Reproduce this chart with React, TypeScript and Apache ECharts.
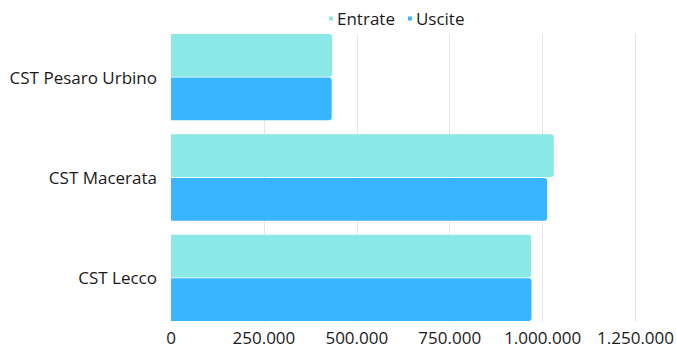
import React, { useEffect, useRef } from "react";
import * as echarts from "echarts";

const categories = ["CST Pesaro Urbino", "CST Macerata", "CST Lecco"];
const entrate = [433000, 1029000, 968000];
const uscite = [432000, 1011000, 969000];
const seriesNames = ["Entrate", "Uscite"];

export default function App() {
  const ref = useRef<HTMLDivElement>(null);
  useEffect(() => {
    if (!ref.current) return;
    document.body.style.margin = "0";
    const chart = echarts.init(ref.current, null, { renderer: "svg" });
    const font = "'Open Sans', sans-serif";
    const fmt = (v: number) => v.toLocaleString("de-DE");
    chart.setOption({
      animation: false,
      textStyle: { fontFamily: font },
      legend: {
        data: seriesNames,
        top: 5,
        left: 324,
        icon: "rect",
        itemWidth: 4,
        itemHeight: 4,
        itemGap: 13,
        textStyle: { fontFamily: font, fontSize: 17, color: "#1a1a1a", padding: [0, 0, 0, -1] },
      },
      grid: [
        { left: 171, right: 41, top: 27, bottom: 20, containLabel: false },
        { left: 171, right: 41, top: 34, bottom: 26, containLabel: false },
      ],
      xAxis: [
        {
          type: "value",
          gridIndex: 0,
          min: 0,
          max: 1250000,
          interval: 250000,
          axisLine: { show: false },
          axisTick: { show: false },
          splitLine: { show: false },
          axisLabel: { show: false },
        },
        {
          type: "value",
          gridIndex: 1,
          min: 0,
          max: 1250000,
          interval: 250000,
          axisLine: { show: false },
          axisTick: { show: false },
          splitLine: { show: true, showMinLine: false, lineStyle: { color: "#e6e6e6", width: 1 } },
          axisLabel: {
            margin: 8,
            fontFamily: font,
            fontSize: 17,
            lineHeight: 14,
            color: "#1a1a1a",
            formatter: (v: number) => fmt(v),
          },
        },
      ],
      yAxis: [
        {
          type: "category",
          gridIndex: 0,
          data: categories,
          inverse: true,
          axisLine: { show: false },
          axisTick: { show: false },
          axisLabel: { margin: 14, fontFamily: font, fontSize: 17, color: "#1a1a1a" },
        },
        {
          type: "category",
          gridIndex: 1,
          data: categories,
          inverse: true,
          show: false,
        },
      ],
      series: [
        {
          name: seriesNames[0],
          type: "bar",
          xAxisIndex: 0,
          yAxisIndex: 0,
          data: entrate,
          barCategoryGap: "14%",
          barGap: "2%",
          itemStyle: { color: "#8AE9E7", borderRadius: [0, 3, 3, 0] },
        },
        {
          name: seriesNames[1],
          type: "bar",
          xAxisIndex: 0,
          yAxisIndex: 0,
          data: uscite,
          barCategoryGap: "14%",
          barGap: "2%",
          itemStyle: { color: "#38B5FF", borderRadius: [0, 3, 3, 0] },
        },
      ],
    });
    return () => chart.dispose();
  }, []);
  return <div ref={ref} style={{ width: 677, height: 348 }} />;
}
